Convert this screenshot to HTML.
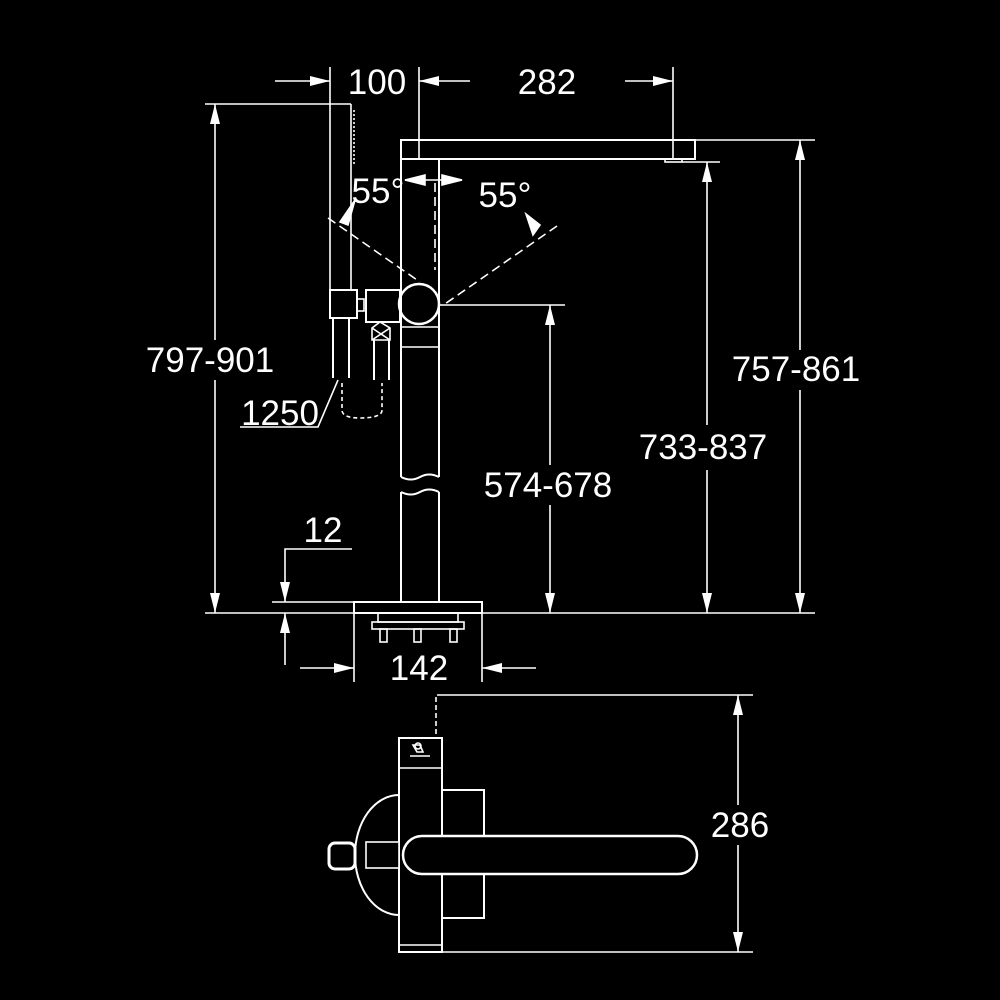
<!DOCTYPE html>
<html><head><style>html,body{margin:0;background:#000}svg{display:block}</style></head>
<body>
<svg width="1000" height="1000" viewBox="0 0 1000 1000" xmlns="http://www.w3.org/2000/svg">
<rect width="1000" height="1000" fill="#000"/>
<defs>
<marker id="a" markerWidth="20" markerHeight="10" refX="20" refY="5" orient="auto" markerUnits="userSpaceOnUse"><path d="M0,0 L20,5 L0,10 Z" fill="#fff"/></marker>
</defs>
<g stroke="#fff" stroke-width="1.6" fill="none">
<line x1="330" y1="67" x2="330" y2="290"/>
<line x1="419" y1="67" x2="419" y2="159"/>
<line x1="673" y1="67" x2="673" y2="159"/>
<line x1="275" y1="81" x2="330" y2="81" marker-end="url(#a)"/>
<line x1="470" y1="81" x2="419" y2="81" marker-end="url(#a)"/>
<line x1="625" y1="81" x2="673" y2="81" marker-end="url(#a)"/>
<rect x="401" y="140" width="294" height="19" stroke-width="2"/>
<rect x="665" y="159" width="17" height="3"/>
<line x1="695" y1="140" x2="815" y2="140"/>
<line x1="682" y1="162" x2="720" y2="162"/>
<line x1="401" y1="159" x2="401" y2="477" stroke-width="2"/>
<line x1="439" y1="159" x2="439" y2="477" stroke-width="2"/>
<path d="M401,477 q10,5 19,0 t19,0" stroke-width="2"/>
<path d="M401,492 q10,5 19,0 t19,0" stroke-width="2"/>
<line x1="401" y1="492" x2="401" y2="602" stroke-width="2"/>
<line x1="439" y1="492" x2="439" y2="602" stroke-width="2"/>
<line x1="401" y1="327" x2="439" y2="327"/>
<line x1="401" y1="347" x2="439" y2="347"/>
<line x1="205" y1="104" x2="351" y2="104"/>
<line x1="351" y1="104" x2="351" y2="290"/>
<line x1="354" y1="110" x2="354" y2="165" stroke-dasharray="2 2"/>
<rect x="330" y="290" width="27" height="28" stroke-width="2"/>
<rect x="357" y="299" width="7" height="12"/>
<line x1="333" y1="318" x2="333" y2="378" stroke-width="2"/>
<line x1="349" y1="318" x2="349" y2="378" stroke-width="2"/>
<rect x="366" y="290" width="34" height="32" stroke-width="2"/>
<path d="M372,328 L380,322 L390,328 L390,340 L372,340 Z M372,328 L390,340 M390,328 L372,340"/>
<line x1="374" y1="340" x2="374" y2="380" stroke-width="2"/>
<line x1="389" y1="340" x2="389" y2="380" stroke-width="2"/>
<path d="M342,383 L342,410 Q342,418 360,418 Q382,418 382,410 L382,383" stroke-dasharray="4 3"/>
<circle cx="419" cy="304" r="20" stroke-width="2.5"/>
<line x1="328" y1="218" x2="420" y2="282" stroke-dasharray="9 5"/>
<line x1="557" y1="226" x2="442" y2="306" stroke-dasharray="9 5"/>
<line x1="435" y1="183" x2="435" y2="270" stroke-dasharray="9 5"/>
<line x1="405" y1="180" x2="462" y2="180"/>
<path d="M340,222 L355,200 L348,225 Z" fill="#fff"/>
<path d="M540,225 L526,214 L533,235 Z" fill="#fff"/>
<path d="M405,180 L425,175 L425,185 Z M462,180 L442,175 L442,185 Z" fill="#fff"/>
<polyline points="240,427 318,427 338,380"/>
<line x1="215" y1="340" x2="215" y2="104" marker-end="url(#a)"/>
<line x1="215" y1="380" x2="215" y2="613" marker-end="url(#a)"/>
<line x1="800" y1="350" x2="800" y2="140" marker-end="url(#a)"/>
<line x1="800" y1="390" x2="800" y2="613" marker-end="url(#a)"/>
<line x1="707" y1="425" x2="707" y2="162" marker-end="url(#a)"/>
<line x1="707" y1="470" x2="707" y2="613" marker-end="url(#a)"/>
<line x1="550" y1="465" x2="550" y2="305" marker-end="url(#a)"/>
<line x1="550" y1="505" x2="550" y2="613" marker-end="url(#a)"/>
<line x1="440" y1="305" x2="565" y2="305"/>
<line x1="205" y1="613" x2="815" y2="613"/>
<rect x="354" y="602" width="128" height="11" stroke-width="2"/>
<line x1="272" y1="602" x2="354" y2="602"/>
<rect x="372" y="622" width="92" height="7"/>
<rect x="378" y="613" width="80" height="9"/>
<rect x="380" y="629" width="7" height="13"/><rect x="414" y="629" width="7" height="13"/><rect x="450" y="629" width="7" height="13"/>
<polyline points="352,549 285,549 285,582"/>
<line x1="285" y1="582" x2="285" y2="602" marker-end="url(#a)"/>
<line x1="285" y1="665" x2="285" y2="613" marker-end="url(#a)"/>
<line x1="354" y1="613" x2="354" y2="682"/>
<line x1="482" y1="613" x2="482" y2="682"/>
<line x1="300" y1="668" x2="354" y2="668" marker-end="url(#a)"/>
<line x1="536" y1="668" x2="482" y2="668" marker-end="url(#a)"/>
<line x1="437" y1="695" x2="753" y2="695"/>
<line x1="400" y1="952" x2="753" y2="952"/>
<line x1="738" y1="805" x2="738" y2="695" marker-end="url(#a)"/>
<line x1="738" y1="845" x2="738" y2="952" marker-end="url(#a)"/>
<line x1="436" y1="697" x2="436" y2="735" stroke-dasharray="5 3"/>
<rect x="399" y="738" width="43" height="214" stroke-width="2"/>
<line x1="399" y1="768" x2="442" y2="768"/>
<line x1="399" y1="945" x2="442" y2="945"/>
<rect x="442" y="790" width="42" height="128" stroke-width="2"/>
<path d="M399,795 A44,60 0 0 0 399,915" stroke-width="2"/>
<rect x="403" y="836" width="294" height="38" rx="19" fill="#000" stroke-width="2.5"/>
<rect x="366" y="842" width="33" height="26" fill="#000"/>
<rect x="329" y="843" width="26" height="26" rx="6" stroke-width="3" fill="#000"/>
<path d="M413,745 L417,752 L423,752 L420,745 Z M410,756 L430,756"/>
<circle cx="418" cy="746" r="3"/>
</g>
<g fill="#fff" font-family="Liberation Sans, sans-serif" font-size="35" text-anchor="middle">
<text x="377" y="94">100</text>
<text x="547" y="94">282</text>
<text x="210" y="372">797-901</text>
<text x="796" y="381">757-861</text>
<text x="703" y="459">733-837</text>
<text x="548" y="497">574-678</text>
<text x="280" y="425">1250</text>
<text x="378" y="203">55°</text>
<text x="505" y="207">55°</text>
<text x="323" y="542">12</text>
<text x="419" y="680">142</text>
<text x="740" y="837">286</text>
</g>
</svg>
</body></html>
